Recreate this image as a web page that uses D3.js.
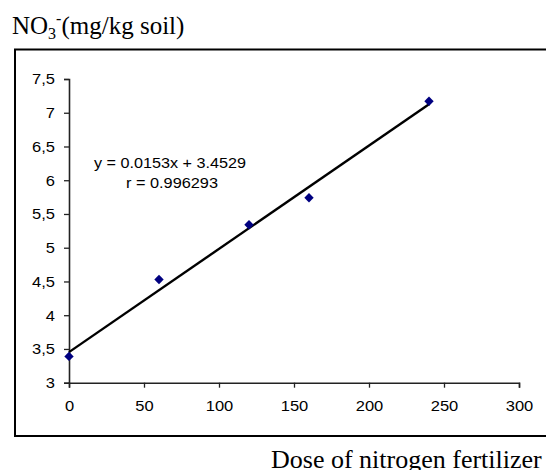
<!DOCTYPE html>
<html>
<head>
<meta charset="utf-8">
<script src="https://cdn.jsdelivr.net/npm/d3@7"></script>
<style>
  html, body { margin: 0; padding: 0; background: #fff; }
  svg { display: block; }
</style>
</head>
<body>
<svg id="chart" width="546" height="470"></svg>
<script>
// ---- data ----
const doses = [0, 60, 120, 160, 240];
const nitrate = [3.39, 4.53, 5.34, 5.74, 7.17];
const xTicks = [0, 50, 100, 150, 200, 250, 300];
const yTicks = [3, 3.5, 4, 4.5, 5, 5.5, 6, 6.5, 7, 7.5];
const trendSlope = 0.0153;
const trendIntercept = 3.4529;
const trendRange = [0, 240];
const equationText = "y = 0.0153x + 3.4529";
const rText = "r = 0.996293";
const yTitleParts = ["NO", "3", "-", "(mg/kg soil)"];
const xTitle = "Dose of nitrogen fertilizer";

// ---- layout ----
const svg = d3.select("#chart");
const x = d3.scaleLinear().domain([0, 300]).range([69, 519]);
const y = d3.scaleLinear().domain([3, 7.5]).range([382.7, 79]);
const fmt = d => String(d).replace(".", ",");
const stretch = 1.1;

// frame
svg.append("rect")
  .attr("x", 15).attr("y", 49.5)
  .attr("width", 620).attr("height", 386.5)
  .attr("fill", "none").attr("stroke", "#000").attr("stroke-width", 2);

// x axis
const gx = svg.append("g")
  .attr("transform", `translate(0,${y(3)})`)
  .call(d3.axisBottom(x).tickValues(xTicks).tickSize(5).tickPadding(13).tickFormat(d => d));
// y axis
const gy = svg.append("g")
  .attr("transform", `translate(${x(0)},0)`)
  .call(d3.axisLeft(y).tickValues(yTicks).tickSize(5).tickPadding(9).tickFormat(fmt));

[gx, gy].forEach(g => {
  g.select(".domain").attr("stroke", "#222").attr("stroke-width", 1.6);
  g.selectAll(".tick line").attr("stroke", "#222").attr("stroke-width", 1.3);
  g.selectAll(".tick text")
    .attr("fill", "#000")
    .style("font-family", "'Liberation Sans', Arial, sans-serif")
    .style("font-size", "15px");
});
gx.selectAll(".tick text").attr("transform", `scale(${stretch},1)`);
gy.selectAll(".tick text").attr("transform", `scale(${stretch},1)`).attr("x", -14 / stretch);

// trend line
svg.append("line")
  .attr("x1", x(trendRange[0])).attr("y1", y(trendIntercept + trendSlope * trendRange[0]))
  .attr("x2", x(trendRange[1])).attr("y2", y(trendIntercept + trendSlope * trendRange[1]))
  .attr("stroke", "#000").attr("stroke-width", 2.4);

// points
const sym = d3.symbol().type(d3.symbolSquare).size(44);
svg.append("g").selectAll("path")
  .data(doses.map((d, i) => [d, nitrate[i]]))
  .join("path")
  .attr("d", sym)
  .attr("transform", d => `translate(${x(d[0])},${y(d[1])}) rotate(45)`)
  .attr("fill", "#000080");

// equation annotation
const ann = svg.append("g").style("font-family", "'Liberation Sans', Arial, sans-serif").style("font-size", "15px").attr("fill", "#000");
ann.append("text").attr("x", 94).attr("y", 167.5).attr("textLength", 152).attr("lengthAdjust", "spacingAndGlyphs").text(equationText);
ann.append("text").attr("x", 126).attr("y", 187.5).attr("textLength", 92).attr("lengthAdjust", "spacingAndGlyphs").text(rText);

// y title
const yt = svg.append("text")
  .attr("x", 12).attr("y", 34)
  .style("font-family", "'Liberation Serif', 'Times New Roman', serif")
  .style("font-size", "25px").attr("fill", "#000");
yt.append("tspan").text(yTitleParts[0]);
yt.append("tspan").attr("dy", 5).style("font-size", "16px").text(yTitleParts[1]);
yt.append("tspan").attr("dy", -15).style("font-size", "16px").text(yTitleParts[2]);
yt.append("tspan").attr("dy", 10).text(yTitleParts[3]);

// x title
svg.append("text")
  .attr("x", 271).attr("y", 468)
  .style("font-family", "'Liberation Serif', 'Times New Roman', serif")
  .style("font-size", "26px").attr("fill", "#000")
  .text(xTitle);
</script>
</body>
</html>
